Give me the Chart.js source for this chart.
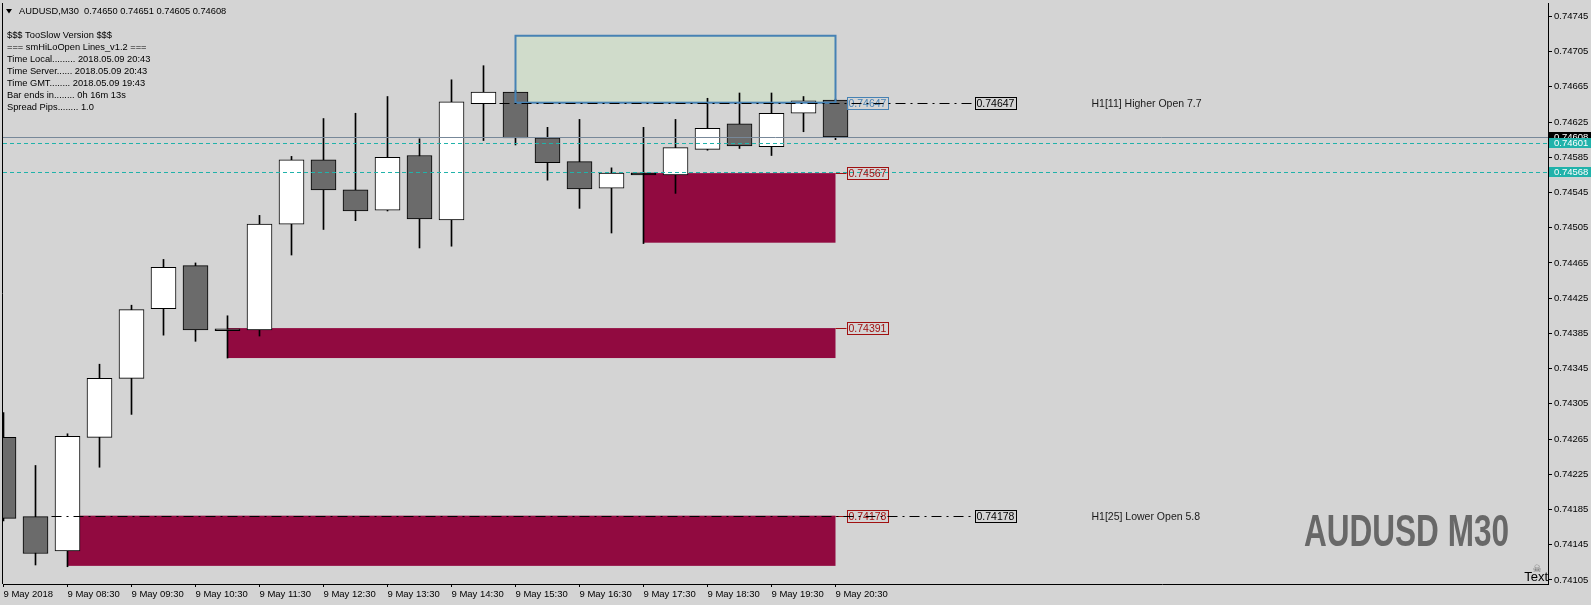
<!DOCTYPE html>
<html>
<head>
<meta charset="utf-8">
<script src="https://cdn.jsdelivr.net/npm/chart.js@4.4.1/dist/chart.umd.min.js"></script>
<style>
  html, body { margin: 0; padding: 0; background: #d4d4d4; }
  canvas { display: block; }
</style>
</head>
<body>
<canvas id="chart" width="1591" height="605"></canvas>
<script>
// AUDUSD M30 candles, 9 May 2018
const times = ['07:30', '08:00', '08:30', '09:00', '09:30', '10:00', '10:30', '11:00', '11:30',
  '12:00', '12:30', '13:00', '13:30', '14:00', '14:30', '15:00', '15:30', '16:00', '16:30',
  '17:00', '17:30', '18:00', '18:30', '19:00', '19:30', '20:00', '20:30'];
const opens = [0.74267, 0.74177, 0.74138, 0.74267, 0.74334, 0.74413, 0.74462, 0.74390, 0.74389,
  0.74509, 0.74582, 0.74548, 0.74525, 0.74587, 0.74514, 0.74646, 0.74659, 0.74607, 0.74580,
  0.74550, 0.74565, 0.74565, 0.74594, 0.74623, 0.74597, 0.74635, 0.74650];
const highs = [0.74295, 0.74235, 0.74271, 0.74350, 0.74417, 0.74469, 0.74465, 0.74405, 0.74519,
  0.74586, 0.74629, 0.74635, 0.74654, 0.74606, 0.74673, 0.74689, 0.74661, 0.74619, 0.74628,
  0.74573, 0.74619, 0.74628, 0.74652, 0.74658, 0.74658, 0.74654, 0.74651];
const lows = [0.74172, 0.74122, 0.74120, 0.74233, 0.74293, 0.74383, 0.74376, 0.74357, 0.74382,
  0.74474, 0.74503, 0.74513, 0.74524, 0.74482, 0.74484, 0.74604, 0.74599, 0.74559, 0.74527,
  0.74499, 0.74487, 0.74544, 0.74593, 0.74595, 0.74587, 0.74614, 0.74605];
const closes = [0.74175, 0.74135, 0.74268, 0.74334, 0.74412, 0.74460, 0.74389, 0.74388, 0.74509,
  0.74582, 0.74548, 0.74524, 0.74585, 0.74515, 0.74648, 0.74659, 0.74607, 0.74579, 0.74549,
  0.74567, 0.74565, 0.74596, 0.74618, 0.74598, 0.74635, 0.74649, 0.74608];

const xTickLabels = ['9 May 2018', '9 May 08:30', '9 May 09:30', '9 May 10:30', '9 May 11:30',
  '9 May 12:30', '9 May 13:30', '9 May 14:30', '9 May 15:30', '9 May 16:30', '9 May 17:30',
  '9 May 18:30', '9 May 19:30', '9 May 20:30'];
const yTicks = [0.74105, 0.74145, 0.74185, 0.74225, 0.74265, 0.74305, 0.74345, 0.74385, 0.74425,
  0.74465, 0.74505, 0.74545, 0.74585, 0.74625, 0.74665, 0.74705, 0.74745];

// demand zones (start bar, top, bottom)
const zoneStart = [2, 7, 20];
const zoneTop = [0.74178, 0.74391, 0.74567];
const zoneBottom = [0.74121, 0.74357, 0.74488];

// supply box
const boxStart = 16;
const boxTop = 0.74723;
const boxBottom = 0.74647;

// H1 open levels
const openLevels = [0.74647, 0.74178];
const openLevelStart = [15.5, 1.5];
const openLevelText = ['H1[11] Higher Open 7.7', 'H1[25] Lower Open 5.8'];

const bid = 0.74608;
const dashLevels = [0.74601, 0.74568];

const header = 'AUDUSD,M30  0.74650 0.74651 0.74605 0.74608';
const infoLines = [
  '$$$ TooSlow Version $$$',
  '=== smHiLoOpen Lines_v1.2 ===',
  'Time Local......... 2018.05.09 20:43',
  'Time Server...... 2018.05.09 20:43',
  'Time GMT........ 2018.05.09 19:43',
  'Bar ends in........ 0h 16m 13s',
  'Spread Pips........ 1.0'
];
const watermark = 'AUDUSD M30';

const lastBar = times.length - 1;
const FONT = '"Liberation Sans", Arial, sans-serif';
Chart.defaults.font.family = FONT;
Chart.defaults.color = '#000';

const bars = times.map((t, i) => i);

function bodyColor(i) {
  if (closes[i] === opens[i]) return '#000000'; // doji shows as a flat black bar
  return closes[i] > opens[i] ? '#ffffff' : '#6b6b6b';
}

const overlay = {
  id: 'overlay',
  beforeDatasetsDraw(chart) {
    const { ctx, chartArea: a } = chart;
    const px = v => chart.scales.x.getPixelForValue(v);
    const py = v => chart.scales.y.getPixelForValue(v);
    const end = px(lastBar);
    ctx.save();
    ctx.beginPath();
    ctx.rect(a.left, a.top, a.right - a.left, a.bottom - a.top);
    ctx.clip();
    ctx.fillStyle = '#d0dccb';
    ctx.fillRect(px(boxStart), py(boxTop), end - px(boxStart), py(boxBottom) - py(boxTop));
    ctx.fillStyle = '#910a40';
    zoneStart.forEach((s, k) => {
      const top = py(zoneTop[k]);
      ctx.fillRect(px(s), top, end - px(s), py(zoneBottom[k]) - top);
    });
    ctx.restore();
  },
  afterDatasetsDraw(chart) {
    const { ctx, chartArea: a } = chart;
    const px = v => chart.scales.x.getPixelForValue(v);
    const py = v => chart.scales.y.getPixelForValue(v);
    const end = px(lastBar);
    const crisp = v => Math.round(v) + 0.5;

    const hline = (x1, x2, yv, color, dash) => {
      ctx.save();
      ctx.strokeStyle = color;
      ctx.lineWidth = 1;
      ctx.setLineDash(dash);
      ctx.beginPath();
      ctx.moveTo(x1, crisp(yv));
      ctx.lineTo(x2, crisp(yv));
      ctx.stroke();
      ctx.restore();
    };
    const label = (x1, yc, text, color) => {
      ctx.save();
      ctx.strokeStyle = color;
      ctx.lineWidth = 1;
      ctx.strokeRect(Math.round(x1) + 0.5, Math.round(yc - 6) + 0.5, 41, 12);
      ctx.fillStyle = color;
      ctx.font = '10.5px ' + FONT;
      ctx.textBaseline = 'middle';
      ctx.fillText(text, x1 + 2, yc + 1);
      ctx.restore();
    };

    ctx.save();
    ctx.beginPath();
    ctx.rect(a.left, a.top, a.right - a.left, a.bottom - a.top);
    ctx.clip();

    // box border
    ctx.strokeStyle = '#4682b4';
    ctx.lineWidth = 2;
    ctx.strokeRect(px(boxStart), py(boxTop), end - px(boxStart), py(boxBottom) - py(boxTop));

    // bid and dotted lines
    hline(a.left, a.right, py(bid), '#778899', []);
    dashLevels.forEach(v => hline(a.left, a.right, py(v), '#20b2aa', [4, 3]));

    // zone price tags
    zoneTop.forEach(v => {
      hline(end, end + 11, py(v), '#a01010', []);
      label(end + 11, py(v), v.toFixed(5), '#a01010');
    });
    label(end + 11, py(boxBottom), boxBottom.toFixed(5), '#4682b4');

    // H1 open lines
    openLevels.forEach((v, k) => {
      const yv = py(v);
      hline(px(openLevelStart[k]), end + 139, yv, '#000', [10, 5, 2, 5]);
      label(end + 139, yv, v.toFixed(5), '#000');
      ctx.fillStyle = '#1a1a1a';
      ctx.font = '10.5px ' + FONT;
      ctx.textBaseline = 'middle';
      ctx.fillText(openLevelText[k], end + 256, yv + 1);
    });

    // info block
    ctx.fillStyle = '#000';
    ctx.font = '9.3px ' + FONT;
    ctx.textBaseline = 'middle';
    ctx.fillText(header, 19, 11);
    ctx.beginPath();
    ctx.moveTo(6, 9);
    ctx.lineTo(12, 9);
    ctx.lineTo(9, 13.5);
    ctx.closePath();
    ctx.fill();
    ctx.font = '9.3px ' + FONT;
    infoLines.forEach((t, k) => ctx.fillText(t, 7, 35.5 + 12 * k));

    // watermark
    ctx.font = 'bold 44px ' + FONT;
    const w = ctx.measureText(watermark).width;
    ctx.save();
    ctx.translate(a.right - 244, 546);
    ctx.scale(205 / w, 1);
    ctx.fillStyle = '#686868';
    ctx.textBaseline = 'alphabetic';
    ctx.fillText(watermark, 0, 0);
    ctx.restore();

    // "Text" object
    ctx.fillStyle = '#000';
    ctx.font = '13px ' + FONT;
    ctx.textBaseline = 'alphabetic';
    ctx.textAlign = 'right';
    ctx.fillText('Text', a.right, a.bottom - 3);
    ctx.fillStyle = '#666';
    ctx.font = '10px "DejaVu Sans"';
    ctx.textAlign = 'center';
    ctx.fillText('\u2620', a.right - 11, a.bottom - 12);
    ctx.restore();
  },
  afterDraw(chart) {
    const { ctx, chartArea: a } = chart;
    const py = v => chart.scales.y.getPixelForValue(v);
    const tag = (v, bg) => {
      const yc = py(v);
      ctx.fillStyle = bg;
      ctx.fillRect(a.right + 1, Math.round(yc - 5), 43, 10);
      ctx.fillStyle = '#fff';
      ctx.font = '9.5px ' + FONT;
      ctx.textBaseline = 'middle';
      ctx.fillText(v.toFixed(5), a.right + 6, yc + 0.5);
    };
    ctx.save();
    tag(bid, '#000');
    dashLevels.forEach(v => tag(v, '#20b2aa'));
    // left frame line
    ctx.strokeStyle = '#000';
    ctx.lineWidth = 1;
    ctx.beginPath();
    ctx.moveTo(a.left - 0.5, a.top);
    ctx.lineTo(a.left - 0.5, a.bottom);
    ctx.stroke();
    ctx.restore();
  }
};

const ctx = document.getElementById('chart').getContext('2d');
new Chart(ctx, {
  type: 'bar',
  data: {
    datasets: [
      {
        label: 'Body',
        data: bars.map(i => ({ x: i, y: [opens[i], closes[i]] })),
        backgroundColor: bars.map(bodyColor),
        borderColor: '#000',
        borderWidth: 1,
        borderSkipped: false,
        barThickness: 25,
        minBarLength: 2,
        grouped: false,
        clip: 0
      },
      {
        label: 'Wick',
        data: bars.map(i => ({ x: i, y: [lows[i], highs[i]] })),
        backgroundColor: '#000',
        barThickness: 1,
        grouped: false,
        clip: 0
      }
    ]
  },
  options: {
    responsive: false,
    animation: false,
    devicePixelRatio: 1,
    layout: { padding: { left: 3, top: 3, right: 0, bottom: 0 } },
    plugins: {
      legend: { display: false },
      tooltip: { enabled: false }
    },
    scales: {
      x: {
        type: 'linear',
        min: -0.015625,
        max: 48.265625,
        offset: false,
        afterBuildTicks: axis => { axis.ticks = xTickLabels.map((_, k) => ({ value: 2 * k })); },
        afterFit: s => { s.height = 21; s.paddingLeft = 0; s.paddingRight = 0; },
        ticks: {
          callback: v => xTickLabels[v / 2],
          align: 'start',
          padding: 2,
          autoSkip: false,
          maxRotation: 0,
          font: { size: 9.5 },
          color: '#000'
        },
        grid: { drawOnChartArea: false, offset: false, tickLength: 3, color: '#000' },
        border: { color: '#000' }
      },
      y: {
        position: 'right',
        min: 0.741004,
        max: 0.747602,
        beginAtZero: false,
        afterBuildTicks: axis => { axis.ticks = yTicks.map(v => ({ value: v })); },
        afterFit: s => { s.width = 43; s.paddingTop = 0; s.paddingBottom = 0; },
        ticks: {
          callback: v => v.toFixed(5),
          padding: 2,
          autoSkip: false,
          font: { size: 9.5 },
          color: '#000'
        },
        grid: { drawOnChartArea: false, tickLength: 4, color: '#000' },
        border: { color: '#000' }
      }
    }
  },
  plugins: [overlay]
});
</script>
</body>
</html>
